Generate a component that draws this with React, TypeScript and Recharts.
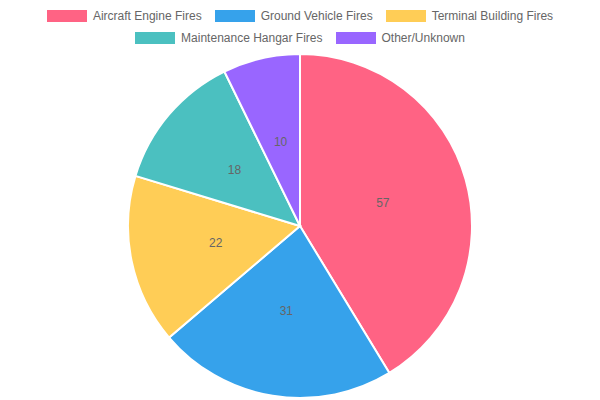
import { PieChart, Pie, Cell } from "recharts";

const categories = [
	"Aircraft Engine Fires",
	"Ground Vehicle Fires",
	"Terminal Building Fires",
	"Maintenance Hangar Fires",
	"Other/Unknown",
];
const incidents = [57, 31, 22, 18, 10];
const colors = ["#ff6384", "#36a2eb", "#ffcd56", "#4bc0c0", "#9966ff"];

const data = categories.map((name, i) => ({ name, value: incidents[i] }));

const FONT = "'Liberation Sans', Arial, Helvetica, sans-serif";
const RAD = Math.PI / 180;

// label in the middle of each slice, like the chart.js datalabels default
const renderLabel = (props: any) => {
	const { cx, cy, midAngle, outerRadius, value } = props;
	const r = outerRadius * 0.5;
	const x = cx + r * Math.cos(-midAngle * RAD);
	const y = cy + r * Math.sin(-midAngle * RAD);
	return (
		<text x={x} y={y} fill="#666" fontSize={12} fontFamily={FONT} textAnchor="middle" dominantBaseline="central">
			{value}
		</text>
	);
};

export default function App() {
	return (
		<div style={{ position: "absolute", left: 0, top: 0, width: 600, height: 400, background: "#fff" }}>
			<div
				style={{
					position: "absolute",
					top: 10,
					left: 10,
					width: 580,
					display: "flex",
					flexWrap: "wrap",
					justifyContent: "center",
					fontFamily: FONT,
					fontSize: 12,
					color: "#666",
					rowGap: 10,
					columnGap: 13,
				}}
			>
				{categories.map((name, i) => (
					<div key={name} style={{ display: "flex", alignItems: "center", height: 12 }}>
						<span style={{ display: "inline-block", width: 40, height: 12, background: colors[i], marginRight: 6 }} />
						<span style={{ lineHeight: "12px" }}>{name}</span>
					</div>
				))}
			</div>
			<PieChart width={600} height={400} margin={{ top: 0, right: 0, bottom: 0, left: 0 }}>
				<Pie
					data={data}
					dataKey="value"
					nameKey="name"
					cx={300}
					cy={226}
					outerRadius={172}
					startAngle={90}
					endAngle={-270}
					stroke="#fff"
					strokeWidth={2}
					label={renderLabel}
					labelLine={false}
					isAnimationActive={false}
				>
					{data.map((d, i) => (
						<Cell key={d.name} fill={colors[i]} />
					))}
				</Pie>
			</PieChart>
		</div>
	);
}
